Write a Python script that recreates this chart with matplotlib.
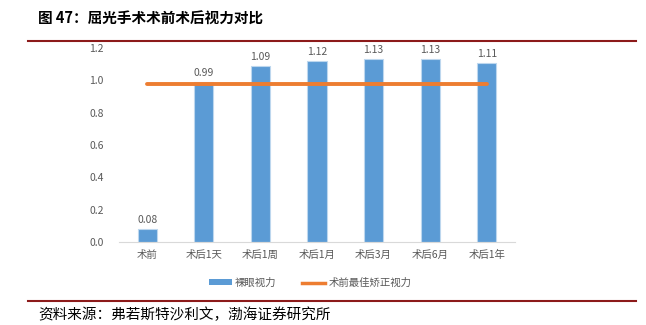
import matplotlib
matplotlib.use("Agg")
import matplotlib.pyplot as plt
from matplotlib.lines import Line2D
from matplotlib.patches import Patch

plt.rcParams['font.family'] = ['Noto Sans CJK SC', 'DejaVu Sans']

# data
categories = ['术前', '术后1天', '术后1周', '术后1月', '术后3月', '术后6月', '术后1年']
naked_vision = [0.08, 0.99, 1.09, 1.12, 1.13, 1.13, 1.11]
best_corrected = [0.98] * len(categories)
y_ticks = [0.0, 0.2, 0.4, 0.6, 0.8, 1.0, 1.2]

blue = '#5B9BD5'
orange = '#ED7D31'
gray = '#595959'
dark_red = '#8C1A1A'

fig = plt.figure(figsize=(6.46, 3.25), dpi=100)
W, H = 646, 325
ax = fig.add_axes([119 / W, 1 - 242 / H, (515 - 119) / W, (242 - 48) / H])

x = list(range(len(categories)))
bars = ax.bar(x, naked_vision, width=0.34, color=blue, edgecolor='#BDD7EE', linewidth=0.8, zorder=2)
ax.plot(x, best_corrected, color=orange, linewidth=2.8, solid_capstyle='round', zorder=3)

for xi, v in zip(x, naked_vision):
    ax.text(xi, v + 0.025, f'{v:.2f}', ha='center', va='bottom', fontsize=7.5, color=gray)

ax.set_xlim(-0.5, len(categories) - 0.5)
ax.set_ylim(0, 1.2)
ax.set_yticks(y_ticks)
ax.set_yticklabels([f'{t:.1f}' for t in y_ticks])
ax.set_xticks(x)
ax.set_xticklabels(categories)
ax.tick_params(axis='both', length=0, labelsize=7.5, labelcolor=gray)
ax.tick_params(axis='y', pad=11)
ax.tick_params(axis='x', pad=6)
for s in ['top', 'right', 'left']:
    ax.spines[s].set_visible(False)
ax.spines['bottom'].set_color('#D9D9D9')

handles = [Patch(facecolor=blue, edgecolor='none'),
           Line2D([0], [0], color=orange, linewidth=2.5)]
fig.legend(handles, ['裸眼视力', '术前最佳矫正视力'], loc='center', bbox_to_anchor=(310 / W, 1 - 283 / H),
           ncol=2, frameon=False, fontsize=7.5, labelcolor=gray, handlelength=2.2, handleheight=0.5,
           columnspacing=2.5, handletextpad=0.3)

# title, rules and source
fig.text(38 / W, 1 - 19 / H, '图 47：屈光手术术前术后视力对比', fontsize=10.5, fontweight='bold',
         ha='left', va='center', color='black')
fig.add_artist(Line2D([28 / W, 636 / W], [1 - 41 / H, 1 - 41 / H], color=dark_red, linewidth=1.5))
fig.add_artist(Line2D([28 / W, 636 / W], [1 - 301 / H, 1 - 301 / H], color=dark_red, linewidth=1.5))
fig.text(38 / W, 1 - 315 / H, '资料来源：弗若斯特沙利文，渤海证券研究所', fontsize=10.5,
         ha='left', va='center', color='black')

fig.savefig('out.png', dpi=100)
